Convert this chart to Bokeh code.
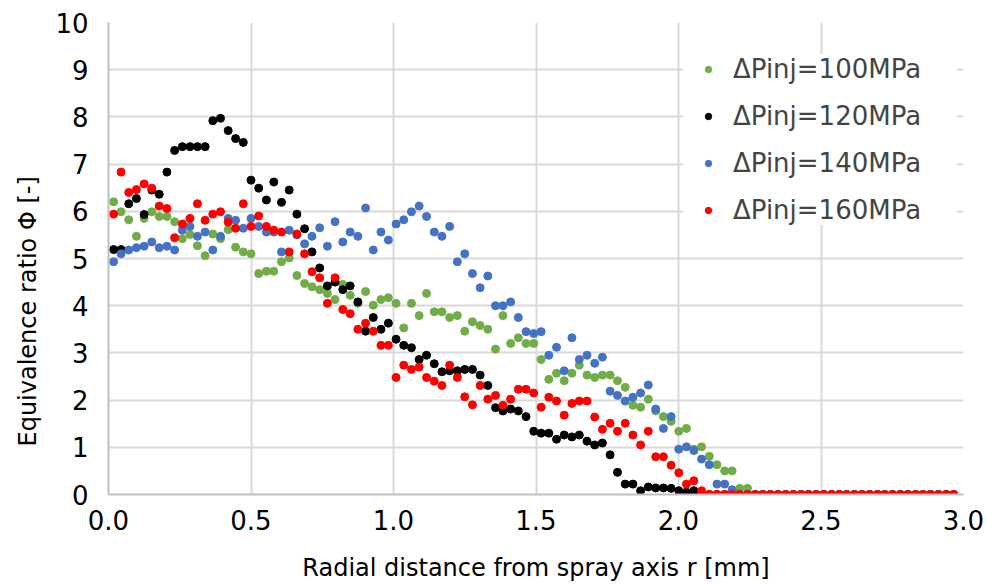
from bokeh.plotting import figure
from bokeh.models import Range1d, Legend, LegendItem, Title, FixedTicker, NumeralTickFormatter
from bokeh.embed import file_html
from bokeh.resources import INLINE

# radial positions [mm]
R = [0.018, 0.044, 0.071, 0.098, 0.125, 0.152, 0.178, 0.205, 0.232, 0.259,
     0.286, 0.312, 0.339, 0.366, 0.393, 0.420, 0.446, 0.473, 0.500, 0.527,
     0.554, 0.580, 0.607, 0.634, 0.661, 0.688, 0.714, 0.741, 0.768, 0.795,
     0.822, 0.848, 0.875, 0.902, 0.929, 0.956, 0.982, 1.009, 1.036, 1.063,
     1.090, 1.116, 1.143, 1.170, 1.197, 1.224, 1.250, 1.277, 1.304, 1.331,
     1.358, 1.384, 1.411, 1.438, 1.465, 1.492, 1.518, 1.545, 1.572, 1.599,
     1.626, 1.652, 1.679, 1.706, 1.733, 1.760, 1.786, 1.813, 1.840, 1.867,
     1.894, 1.920, 1.947, 1.974, 2.001, 2.028, 2.054, 2.081, 2.108, 2.135,
     2.162, 2.188, 2.215, 2.242, 2.269, 2.296, 2.322, 2.349, 2.376, 2.403,
     2.430, 2.456, 2.483, 2.510, 2.537, 2.564, 2.590, 2.617, 2.644, 2.671,
     2.698, 2.724, 2.751, 2.778, 2.805, 2.832, 2.858, 2.885, 2.912, 2.939,
     2.966]

PHI_100 = [6.20, 5.99, 5.82, 5.47, 5.85, 5.99, 5.89, 5.89, 5.78, 5.42,
           5.51, 5.27, 5.06, 5.52, 5.42, 5.61, 5.24, 5.14, 5.10, 4.68,
           4.73, 4.73, 4.93, 5.01, 4.64, 4.47, 4.40, 4.34, 4.26, 4.13,
           4.45, 4.22, 4.05, 4.30, 4.01, 4.13, 4.17, 4.05, 3.53, 4.05,
           3.79, 4.26, 3.87, 3.87, 3.75, 3.79, 3.46, 3.66, 3.58, 3.50,
           3.08, 3.79, 3.20, 3.32, 3.20, 3.20, 2.86, 2.44, 2.57, 2.41,
           2.57, 2.74, 2.53, 2.48, 2.53, 2.53, 2.41, 2.27, 1.89, 1.85,
           2.02, 1.77, 1.65, 1.55, 1.34, 1.40, 0.96, 1.01, 0.81, 0.63,
           0.50, 0.50, 0.13, 0.13, 0, 0, 0, 0, 0, 0,
           0, 0, 0, 0, 0, 0, 0, 0, 0, 0,
           0, 0, 0, 0, 0, 0, 0, 0, 0, 0,
           0]

PHI_120 = [5.19, 5.19, 6.16, 6.27, 5.93, 6.45, 6.36, 6.83, 7.29, 7.37,
           7.37, 7.37, 7.37, 7.92, 7.97, 7.71, 7.54, 7.46, 6.66, 6.49,
           6.24, 6.62, 6.19, 6.45, 5.94, 5.63, 5.14, 4.80, 4.42, 4.50,
           4.34, 4.42, 4.08, 3.46, 3.75, 3.50, 3.63, 3.29, 3.16, 3.11,
           2.86, 2.95, 2.77, 2.60, 2.62, 2.62, 2.65, 2.65, 2.53, 2.31,
           1.84, 1.77, 1.81, 1.77, 1.65, 1.34, 1.30, 1.30, 1.17, 1.26,
           1.22, 1.26, 1.13, 1.05, 1.09, 0.84, 0.47, 0.22, 0.22, 0.08,
           0.16, 0.14, 0.14, 0.13, 0.08, 0.05, 0.08, 0, 0, 0,
           0, 0, 0, 0, 0, 0, 0, 0, 0, 0,
           0, 0, 0, 0, 0, 0, 0, 0, 0, 0,
           0, 0, 0, 0, 0, 0, 0, 0, 0, 0,
           0]

PHI_140 = [4.93, 5.10, 5.18, 5.23, 5.26, 5.35, 5.23, 5.26, 5.18, 5.60,
           5.68, 5.47, 5.56, 5.18, 5.47, 5.85, 5.81, 5.64, 5.85, 5.68,
           5.56, 5.56, 5.14, 5.60, 5.50, 5.31, 5.47, 5.65, 5.26, 5.78,
           5.35, 5.56, 5.47, 6.07, 5.18, 5.56, 5.39, 5.73, 5.82, 5.99,
           6.11, 5.89, 5.56, 5.47, 5.68, 4.93, 5.10, 4.68, 4.38, 4.63,
           4.00, 4.00, 4.08, 3.75, 3.45, 3.41, 3.45, 2.95, 3.12, 2.62,
           3.32, 2.86, 2.95, 2.78, 2.91, 2.19, 2.10, 1.98, 2.06, 2.15,
           2.32, 1.81, 1.40, 1.65, 0.96, 1.01, 0.93, 0.75, 0.63, 0.22,
           0.22, 0.10, 0, 0, 0, 0, 0, 0, 0, 0,
           0, 0, 0, 0, 0, 0, 0, 0, 0, 0,
           0, 0, 0, 0, 0, 0, 0, 0, 0, 0,
           0]

PHI_160 = [5.94, 6.83, 6.40, 6.46, 6.58, 6.49, 6.11, 6.06, 5.44, 5.73,
           5.85, 6.16, 5.81, 5.94, 5.99, 5.77, 5.64, 6.16, 5.68, 5.90,
           5.68, 5.60, 5.56, 5.14, 5.52, 5.10, 4.72, 4.59, 4.05, 4.59,
           3.92, 3.83, 3.50, 3.63, 3.46, 3.16, 3.16, 2.48, 2.74, 2.65,
           2.70, 2.48, 2.40, 2.31, 2.74, 2.48, 2.07, 1.90, 2.31, 2.02,
           2.10, 1.89, 2.02, 2.23, 2.23, 2.15, 1.85, 2.06, 1.98, 1.68,
           1.93, 1.98, 1.98, 1.64, 1.38, 1.51, 1.34, 1.51, 1.26, 1.05,
           1.34, 0.80, 0.80, 0.62, 0.46, 0.22, 0.29, 0.08, 0, 0,
           0, 0, 0, 0, 0, 0, 0, 0, 0, 0,
           0, 0, 0, 0, 0, 0, 0, 0, 0, 0,
           0, 0, 0, 0, 0, 0, 0, 0, 0, 0,
           0]

SERIES = [("ΔPinj=100MPa", PHI_100, "#70AD47"),
          ("ΔPinj=120MPa", PHI_120, "#000000"),
          ("ΔPinj=140MPa", PHI_140, "#4472C4"),
          ("ΔPinj=160MPa", PHI_160, "#FF0000")]

X_TICKS = [0.0, 0.5, 1.0, 1.5, 2.0, 2.5, 3.0]
Y_TICKS = [0, 1, 2, 3, 4, 5, 6, 7, 8, 9, 10]
X_TITLE = "Radial distance from spray axis r [mm]"
Y_TITLE = "Equivalence ratio  Φ [-]"

FONT = "DejaVu Sans"

p = figure(width=986, height=584, x_range=Range1d(0, 3.0), y_range=Range1d(0, 10),
           output_backend="svg", toolbar_location=None,
           min_border_left=105, min_border_right=23, min_border_top=22, min_border_bottom=89)
p.outline_line_color = None
p.background_fill_color = "white"
p.border_fill_color = "white"

for ax in (p.xaxis[0], p.yaxis[0]):
    ax.major_tick_line_color = None
    ax.minor_tick_line_color = None
    ax.axis_line_color = "#BFBFBF"
    ax.axis_line_width = 2
    ax.major_label_text_font = FONT
    ax.major_label_text_font_size = "26px"
    ax.major_label_text_color = "#000000"

p.xaxis[0].ticker = FixedTicker(ticks=X_TICKS)
p.xaxis[0].formatter = NumeralTickFormatter(format="0.0")
p.xaxis[0].major_label_standoff = 9
p.xaxis[0].axis_label = X_TITLE
p.xaxis[0].axis_label_text_font = FONT
p.xaxis[0].axis_label_text_font_size = "24px"
p.xaxis[0].axis_label_text_font_style = "normal"
p.xaxis[0].axis_label_text_color = "#000000"
p.xaxis[0].axis_label_standoff = 21

p.yaxis[0].ticker = FixedTicker(ticks=Y_TICKS)
p.yaxis[0].formatter = NumeralTickFormatter(format="0")
p.yaxis[0].major_label_standoff = 14

p.add_layout(Title(text=Y_TITLE, align="left", offset=48, standoff=22,
                   text_font=FONT, text_font_size="24px", text_font_style="normal",
                   text_color="#000000"), "left")

p.xgrid[0].grid_line_color = "#D9D9D9"
p.xgrid[0].grid_line_width = 2
p.ygrid[0].grid_line_color = "#D9D9D9"
p.ygrid[0].grid_line_width = 2

items = []
for name, vals, col in SERIES:
    r = p.scatter(R, vals, size=8, marker="circle", fill_color=col, line_color=col)
    items.append(LegendItem(label=name, renderers=[r]))

legend = Legend(items=items, location=(575, 269), padding=12, margin=0,
                glyph_width=50, glyph_height=16, label_standoff=0,
                label_height=30, label_width=224, spacing=17,
                label_text_font=FONT, label_text_font_size="26px",
                background_fill_color="white", background_fill_alpha=1.0,
                border_line_color=None)
p.add_layout(legend, "center")

open("out.html", "w").write(file_html(p, INLINE))
